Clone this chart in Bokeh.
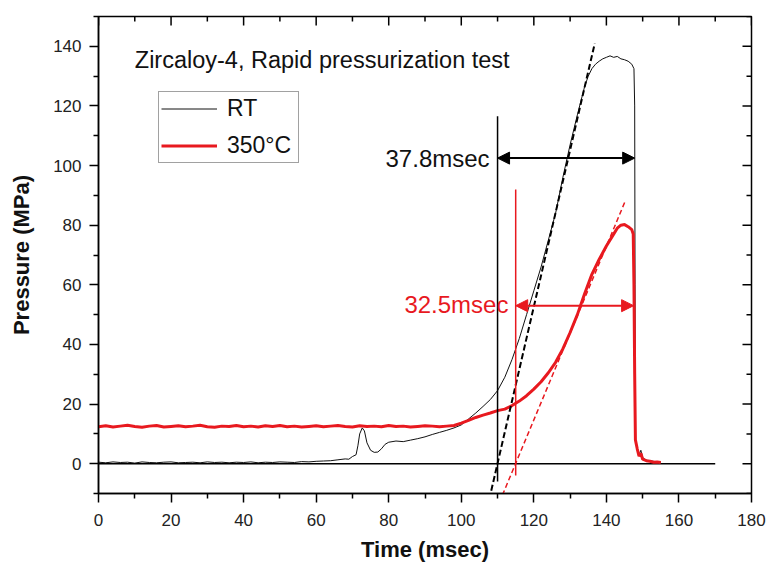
import math
from bokeh.plotting import figure
from bokeh.models import (FixedTicker, Range1d, Legend, LegendItem,
                          Arrow, NormalHead, Label, ColumnDataSource)
from bokeh.embed import file_html
from bokeh.resources import INLINE

# ---------------- data ----------------
rt_time = [0, 2, 4, 6, 8, 10, 12, 14, 16, 18, 20, 22, 24, 26, 28, 30, 32, 34, 36, 38,
           40, 42, 44, 46, 48, 50, 52, 54, 56, 58, 60, 62, 64, 66, 68, 69,
           70, 71, 71.5, 72, 72.7, 73.3, 74, 75, 76, 77, 78, 79, 80,
           82, 84, 86, 88, 90, 92, 94, 96, 98, 100,
           102, 104, 106, 108, 110, 112, 114, 116, 118, 120, 122, 124, 126, 128, 130, 132, 134,
           135, 136, 137, 138, 139, 140, 141, 142, 143, 144, 145, 146, 147,
           147.6, 147.8, 147.9, 148, 148.5, 149, 149.5, 150,
           151, 152, 153, 154, 155]
rt_pressure = [0.5, 0.3, 0.6, 0.4, 0.5, 0.2, 0.6, 0.4, 0.3, 0.5,
               0.6, 0.3, 0.4, 0.5, 0.3, 0.6, 0.4, 0.5, 0.3, 0.5,
               0.4, 0.6, 0.3, 0.5, 0.4, 0.6, 0.5, 0.4, 0.7, 0.6,
               0.8, 0.9, 1.0, 1.3, 1.6, 1.5,
               2.4, 3.0, 6.0, 10.0, 12.0, 11.0, 7.0, 4.5, 3.8, 3.9, 5.0, 6.5, 7.2,
               7.6, 7.4, 7.9, 8.4, 9.0, 9.8, 10.5, 11.2, 12.0, 13.0,
               15.0, 17.0, 19.2, 21.5, 24.5, 29.0, 35.0, 42.0, 50.0, 58.0, 66.0, 75.0,
               84.0, 96.0, 107.0, 117.0, 126.5,
               130.0, 132.5, 134.0, 135.0, 135.8, 136.3, 136.8, 136.3, 136.6, 135.8,
               135.5, 135.0, 134.0,
               132.5, 120.0, 60.0, 8.0, 5.0, 3.0, 4.5, 2.0,
               1.2, 1.0, 0.8, 0.6, 0.5]

hot_time = [0, 2, 4, 6, 8, 10, 12, 14, 16, 18, 20, 22, 24, 26, 28, 30, 32, 34, 36, 38,
            40, 42, 44, 46, 48, 50, 52, 54, 56, 58, 60, 62, 64, 66, 68, 70, 72, 74, 76, 78,
            80, 82, 84, 86, 88, 90, 92, 94, 96,
            98, 100, 102, 104, 106, 108, 110, 112, 114, 116, 118, 120, 122, 124, 126, 128,
            130, 132, 134, 136, 138, 140, 142,
            143, 144, 145, 146, 147, 147.4, 147.6, 147.8, 148, 148.5, 149, 149.5, 150,
            151, 152, 153, 154, 155]
hot_pressure = [12.4, 12.7, 12.3, 12.6, 12.9, 12.5, 12.2, 12.6, 12.8, 12.3,
                12.5, 12.7, 12.4, 12.6, 12.9, 12.4, 12.2, 12.6, 12.5, 12.8,
                12.4, 12.6, 12.3, 12.7, 12.5, 12.8, 12.4, 12.6, 12.3, 12.5,
                12.7, 12.4, 12.6, 12.8, 12.5, 12.3, 12.7, 12.5, 12.6, 12.4,
                12.8, 12.5, 12.6, 12.3, 12.5, 12.7, 12.6, 12.4, 12.6,
                12.8, 13.6, 14.5, 15.5, 16.3, 17.0, 17.8, 18.3, 19.5, 21.0, 22.8, 25.0,
                27.5, 30.5, 34.0, 38.5, 44.0, 50.0, 57.0, 63.5, 68.5, 73.0, 77.0,
                79.0, 80.0, 80.2, 79.5, 78.5, 77.0, 60.0, 30.0, 8.0, 5.0, 2.5, 3.5, 1.5,
                1.0, 0.8, 0.5, 0.6, 0.4]

# tangent (fitted) lines
rt_tan_time = [107.7, 136.8]
rt_tan_pressure = [-12.0, 141.0]
hot_tan_time = [110.5, 145.3]
hot_tan_pressure = [-13.0, 88.4]

# onset / end markers (msec) and durations
rt_onset, rt_end = 110.0, 147.8
hot_onset, hot_end = 115.0, 147.5
rt_label = "37.8msec"
hot_label = "32.5msec"
zero_line_time = [0, 170]
zero_line_pressure = [0, 0]

x_min, x_max = 0, 180
y_min, y_max = -10, 150
x_ticks = [0, 20, 40, 60, 80, 100, 120, 140, 160, 180]
x_minor = [10, 30, 50, 70, 90, 110, 130, 150, 170]
y_ticks = [0, 20, 40, 60, 80, 100, 120, 140]
y_minor = [-10, 10, 30, 50, 70, 90, 110, 130, 150]

assert len(rt_time) == len(rt_pressure)
assert len(hot_time) == len(hot_pressure)

# ---------------- styling ----------------
FONT = "Liberation Sans"
RED = "#e8191f"

p = figure(frame_width=653, frame_height=477,
           x_range=Range1d(x_min, x_max), y_range=Range1d(y_min, y_max),
           output_backend="svg", toolbar_location=None,
           min_border_left=98, min_border_right=15, min_border_top=16, min_border_bottom=71)
p.grid.visible = False
p.outline_line_color = "black"
p.outline_line_width = 1.5
p.background_fill_color = "white"
p.border_fill_color = "white"

def style_axis(ax, ticks, minor):
    ax.ticker = FixedTicker(ticks=ticks, minor_ticks=minor)
    ax.axis_line_color = "black"
    ax.axis_line_width = 1.5
    ax.major_tick_line_color = "black"
    ax.minor_tick_line_color = "black"
    ax.major_tick_line_width = 1.5
    ax.minor_tick_line_width = 1.5
    ax.major_tick_out, ax.major_tick_in = 9, 0
    ax.minor_tick_out, ax.minor_tick_in = 5, 0
    ax.major_label_text_font = FONT
    ax.major_label_text_font_size = "17px"
    ax.major_label_text_color = "#222222"
    ax.axis_label_text_font = FONT
    ax.axis_label_text_font_size = "22px"
    ax.axis_label_text_font_style = "bold"
    ax.axis_label_text_color = "#111111"

style_axis(p.xaxis[0], x_ticks, x_minor)
style_axis(p.yaxis[0], y_ticks, y_minor)
p.xaxis.major_label_standoff = 11
p.yaxis.major_label_standoff = 8
p.xaxis.axis_label = "Time (msec)"
p.yaxis.axis_label = "Pressure (MPa)"
p.xaxis.axis_label_standoff = 8
p.yaxis.axis_label_standoff = 16

# inward ticks on the top and right frame edges
n_x, n_xm = len(x_ticks), len(x_minor)
n_y, n_ym = len(y_ticks), len(y_minor)
p.scatter(x_ticks, [y_max] * n_x, marker="dash", angle=math.pi / 2, size=18,
          line_color="black", line_width=1.5)
p.scatter(x_minor, [y_max] * n_xm, marker="dash", angle=math.pi / 2, size=10,
          line_color="black", line_width=1.5)
p.scatter([x_max] * n_y, y_ticks, marker="dash", size=18,
          line_color="black", line_width=1.5)
p.scatter([x_max] * n_ym, y_minor, marker="dash", size=10,
          line_color="black", line_width=1.5)

# zero line
p.line(zero_line_time, zero_line_pressure, line_color="black", line_width=1.5)

# curves
rt_src = ColumnDataSource(dict(t=rt_time, p=rt_pressure))
hot_src = ColumnDataSource(dict(t=hot_time, p=hot_pressure))
r_rt = p.line("t", "p", source=rt_src, line_color="#111111", line_width=1)
r_hot = p.line("t", "p", source=hot_src, line_color=RED, line_width=3)

# tangent lines
p.line(rt_tan_time, rt_tan_pressure, line_color="black", line_width=2, line_dash="6 3")
p.line(hot_tan_time, hot_tan_pressure, line_color=RED, line_width=1.5, line_dash="5 3")

# onset markers
p.line([rt_onset, rt_onset], [-6, 116.5], line_color="black", line_width=1.5)
p.line([hot_onset, hot_onset], [-4, 92], line_color=RED, line_width=1.5)

# duration arrows
p.add_layout(Arrow(x_start=rt_onset, y_start=102.5, x_end=rt_end, y_end=102.5,
                   line_color="black", line_width=2,
                   start=NormalHead(size=12, fill_color="black", line_color="black"),
                   end=NormalHead(size=12, fill_color="black", line_color="black")))
p.add_layout(Arrow(x_start=hot_onset, y_start=53, x_end=hot_end, y_end=53,
                   line_color=RED, line_width=2,
                   start=NormalHead(size=12, fill_color=RED, line_color=RED),
                   end=NormalHead(size=12, fill_color=RED, line_color=RED)))

p.add_layout(Label(x=rt_onset - 2.2, y=102.5, text=rt_label, text_align="right",
                   text_baseline="middle", text_font=FONT, text_font_size="24px",
                   text_color="#111111"))
p.add_layout(Label(x=hot_onset - 2.0, y=53.5, text=hot_label, text_align="right",
                   text_baseline="middle", text_font=FONT, text_font_size="24px",
                   text_color=RED))
p.add_layout(Label(x=10.0, y=135.5, text="Zircaloy-4, Rapid pressurization test",
                   text_align="left", text_baseline="middle", text_font=FONT,
                   text_font_size="23.5px", text_color="#111111"))

legend = Legend(items=[LegendItem(label="RT", renderers=[r_rt]),
                       LegendItem(label="350°C", renderers=[r_hot])],
                location=(60, 330))
legend.label_text_font = FONT
legend.label_text_font_size = "23px"
legend.label_text_color = "#111111"
legend.glyph_width = 56
legend.glyph_height = 29
legend.label_height = 29
legend.label_width = 69
legend.label_standoff = 10
legend.spacing = 8
legend.padding = 2
legend.margin = 0
legend.border_line_color = "#444444"
legend.border_line_width = 1
legend.background_fill_alpha = 1
p.add_layout(legend)

open("out.html", "w").write(file_html(p, INLINE))
